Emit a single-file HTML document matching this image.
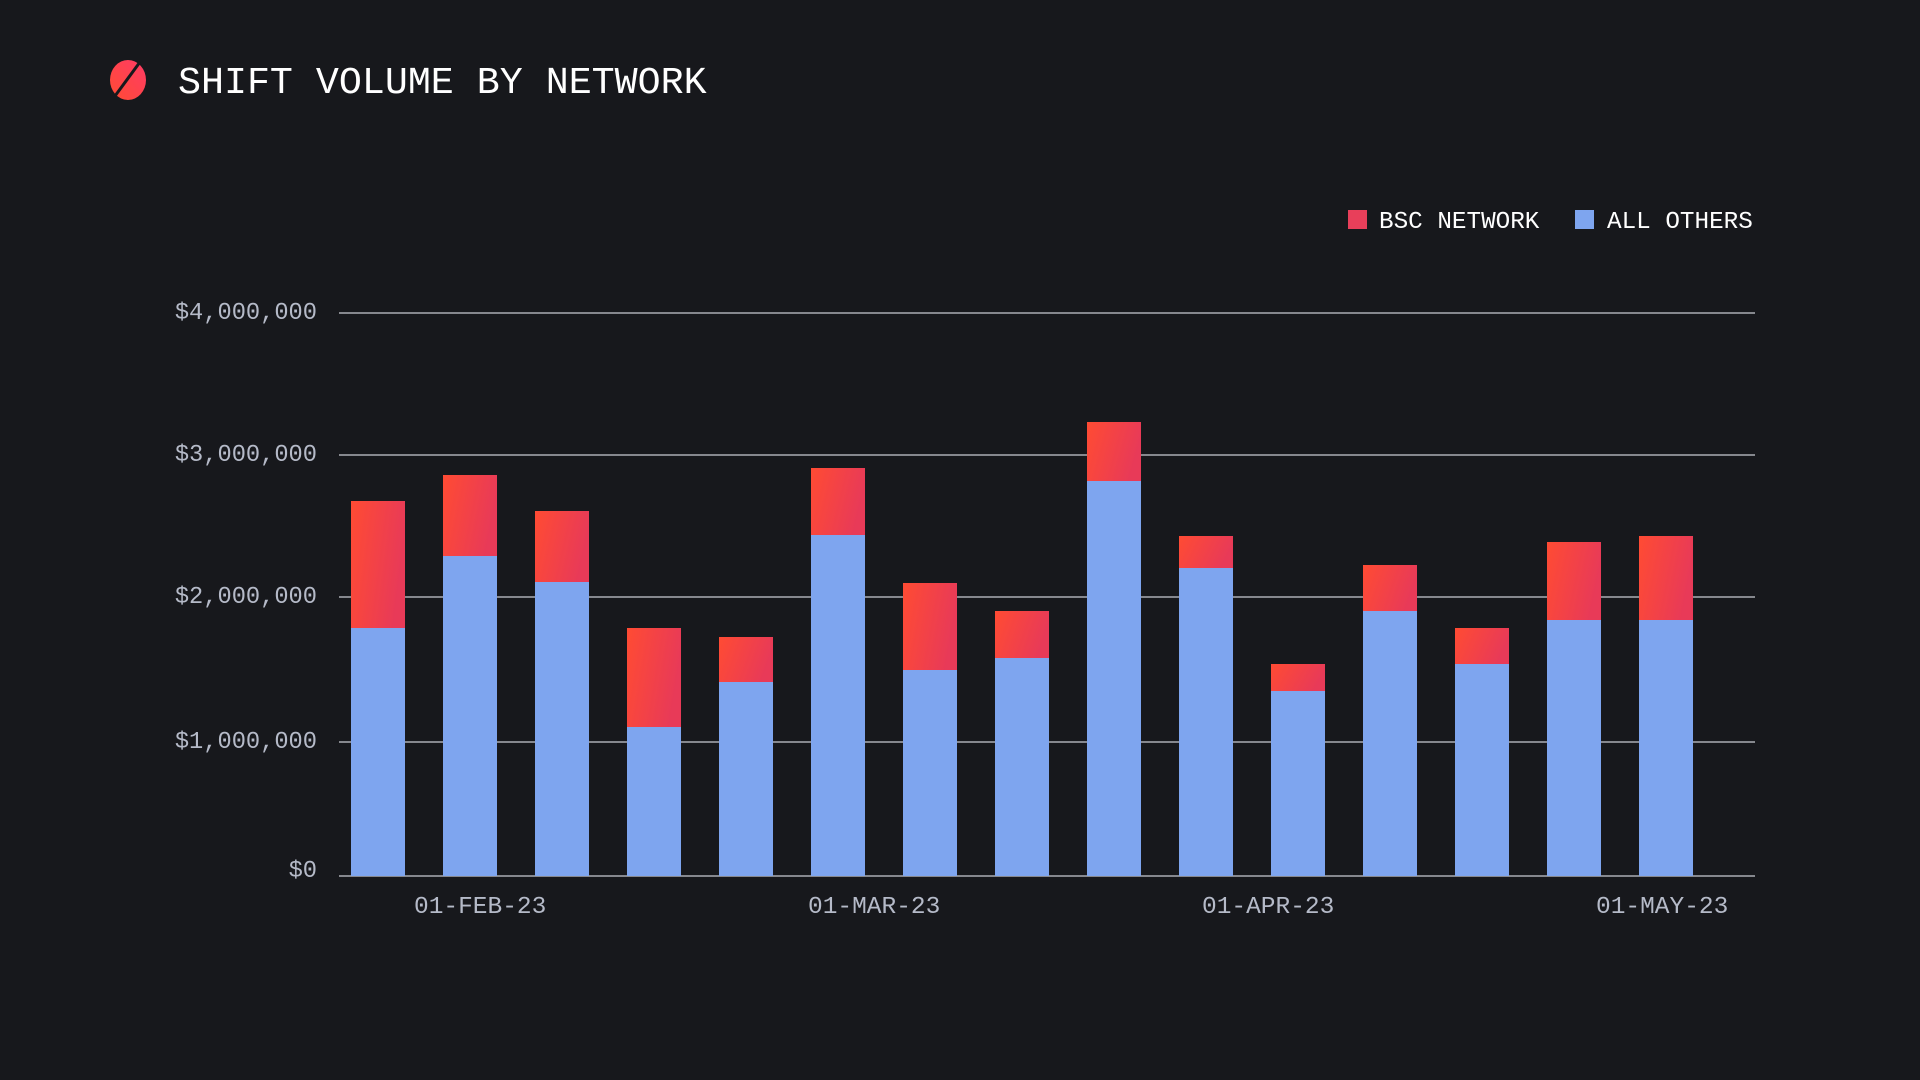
<!DOCTYPE html>
<html><head><meta charset="utf-8"><style>
html,body{margin:0;padding:0;background:#17181c;}
body{width:1920px;height:1080px;position:relative;overflow:hidden;font-family:"Liberation Mono",monospace;}
.t{position:absolute;white-space:nowrap;}
</style></head><body>
<svg width="1920" height="1080" style="position:absolute;left:0;top:0">
<defs>
<linearGradient id="rg" x1="0" y1="0" x2="1" y2="0.3">
<stop offset="0" stop-color="#ff4b33"/><stop offset="1" stop-color="#e83a58"/></linearGradient>
<linearGradient id="ig" x1="0" y1="1" x2="1" y2="0">
<stop offset="0" stop-color="#ff4b33"/><stop offset="1" stop-color="#ff3b66"/></linearGradient>
</defs>
<ellipse cx="128" cy="80" rx="18" ry="20" fill="url(#ig)"/>
<line x1="115" y1="96" x2="140" y2="62" stroke="#17181c" stroke-width="3"/>
<g stroke="#c8cad2" stroke-width="1.3">
<line x1="339" y1="313" x2="1755" y2="313"/>
<line x1="339" y1="455" x2="1755" y2="455"/>
<line x1="339" y1="597" x2="1755" y2="597"/>
<line x1="339" y1="742" x2="1755" y2="742"/>
<line x1="339" y1="876" x2="1755" y2="876"/>
</g>
<g id="bars"></g>
<rect x="1348" y="210" width="19" height="19" fill="#e83f5a"/>
<rect x="1575" y="210" width="19" height="19" fill="#7ea5ef"/>
</svg>
<div class="t" style="left:178px;top:61px;font-size:38.3px;color:#fff;">SHIFT VOLUME BY NETWORK</div>
<div class="t" style="left:1379px;top:209px;font-size:24.3px;color:#fff;">BSC NETWORK</div>
<div class="t" style="left:1607px;top:209px;font-size:24.3px;color:#fff;">ALL OTHERS</div>
<div class="t" style="right:1603px;top:300px;font-size:23.7px;color:#b5bac8;">$4,000,000</div>
<div class="t" style="right:1603px;top:442px;font-size:23.7px;color:#b5bac8;">$3,000,000</div>
<div class="t" style="right:1603px;top:584px;font-size:23.7px;color:#b5bac8;">$2,000,000</div>
<div class="t" style="right:1603px;top:729px;font-size:23.7px;color:#b5bac8;">$1,000,000</div>
<div class="t" style="right:1603px;top:858px;font-size:23.7px;color:#b5bac8;">$0</div>
<div class="t" style="left:414px;top:894px;font-size:24.5px;color:#b5bac8;">01-FEB-23</div>
<div class="t" style="left:808px;top:894px;font-size:24.5px;color:#b5bac8;">01-MAR-23</div>
<div class="t" style="left:1202px;top:894px;font-size:24.5px;color:#b5bac8;">01-APR-23</div>
<div class="t" style="left:1596px;top:894px;font-size:24.5px;color:#b5bac8;">01-MAY-23</div>
<script>
var d=[[501,628],[475,556],[511,582],[628,727],[637,682],[468,535],[583,670],[611,658],[422,481],[536,568],[664,691],[565,611],[628,664],[542,620],[536,620]];
var g=document.getElementById('bars'),s='';
d.forEach(function(b,i){var x=351+i*92;
s+='<rect x="'+x+'" y="'+b[0]+'" width="54" height="'+(b[1]-b[0])+'" fill="url(#rg)"/>';
s+='<rect x="'+x+'" y="'+b[1]+'" width="54" height="'+(876-b[1])+'" fill="#7ea5ef"/>';});
g.innerHTML=s;
</script>
</body></html>
